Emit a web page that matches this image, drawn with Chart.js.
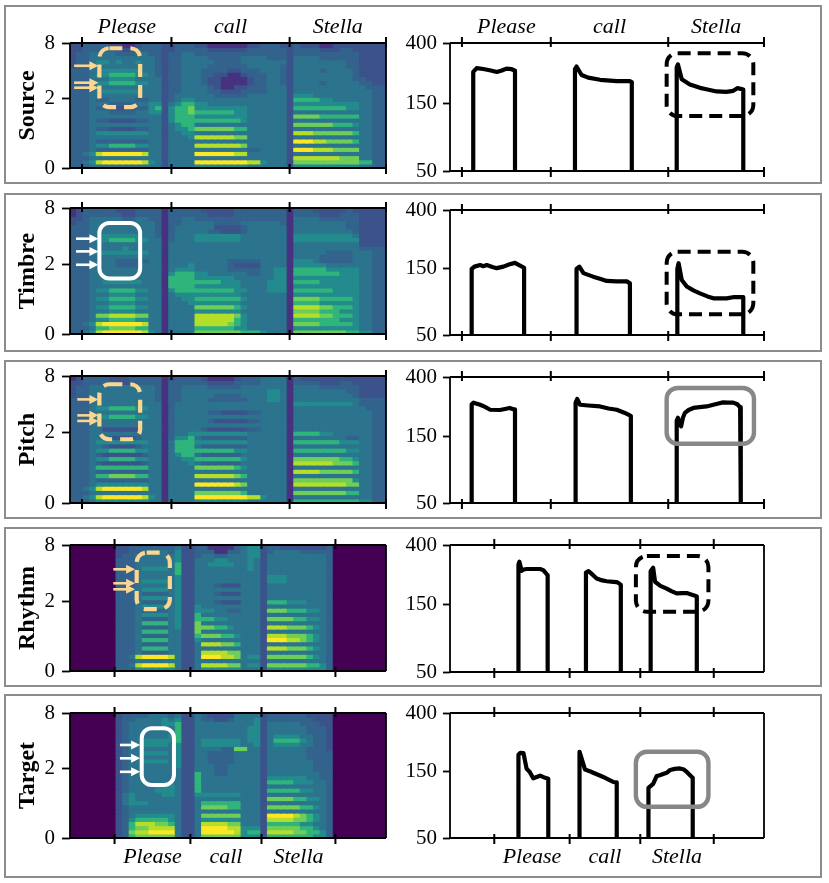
<!DOCTYPE html>
<html>
<head>
<meta charset="utf-8">
<title>Source / Timbre / Pitch / Rhythm / Target</title>
<script src="https://cdn.jsdelivr.net/npm/chart.js@4.4.1/dist/chart.umd.min.js"></script>
<style>
  html, body { margin:0; padding:0; background:#ffffff; }
  body { position:relative; width:829px; height:883px; overflow:hidden; }
  .panel { position:absolute; left:4px; width:818px; border:2px solid #8c8c8c; box-sizing:border-box; }
  canvas { position:absolute; }
</style>
</head>
<body>
<script>
// ------------------------------------------------------------------ data
const words = ['Please', 'call', 'Stella'];
const rowNames = ['Source', 'Timbre', 'Pitch', 'Rhythm', 'Target'];
const specTicksKHz = [0, 2, 8];
const pitchTicksHz = [50, 150, 400];
// word boundaries on the time axis (0-100 = full panel width)
const boundsOriginal = [3.8, 32.1, 69.5, 100];
const boundsAligned = [14.1, 38.1, 60.6, 84.0];

// spectrogram intensity grids (rows: 8 kHz at top -> 0 Hz at bottom, mel-spaced; 48 time columns; 0-9 = viridis level)
const specSource = [
"22|33|33221123|33|2|2333|2211111122|3332|2|322211222222|22",
"22|33|33332233|33|2|2333|3322222233|3333|2|333322233222|22",
"23|34|44433344|33|2|3344|3333333333|3333|2|333333333322|22",
"23|34|44444444|43|2|3344|4433333444|4333|2|444433333322|22",
"23|34|55454454|43|2|3344|4443333444|4444|2|444444443322|22",
"23|34|44444444|43|2|3344|4433333344|4443|2|444444443322|22",
"33|34|45555554|43|2|3344|4333322333|4443|2|444434444322|22",
"33|34|55666655|43|2|3344|4332211233|3443|2|444444444322|22",
"33|34|44555544|44|2|3344|4322111123|3443|2|444444444332|22",
"33|34|55666655|44|2|3344|4322111123|3443|2|444434444433|22",
"33|34|44444444|44|2|3344|4432112233|3444|2|444444444443|33",
"33|34|45555554|44|2|3344|4433222333|3444|2|444444444444|33",
"33|34|44444444|44|2|3444|4443333344|4444|2|555444444444|33",
"33|34|33444433|44|2|3455|4444444444|4444|2|666655444444|33",
"33|34|44333344|55|2|4566|5544444444|4444|2|555555555544|33",
"33|34|33222233|56|2|5667|5555555544|4444|2|666666665544|33",
"33|34|44333344|55|2|5667|6666665544|4444|2|444444444444|33",
"33|34|44444444|44|2|5666|5555555544|4444|2|777766666644|33",
"33|34|33222233|44|2|5666|6666666544|4444|2|444444444444|33",
"33|34|44444444|44|2|4566|4444444444|4444|2|777777666544|33",
"33|34|33222233|44|2|4556|7777776644|4444|2|444444444444|33",
"33|34|55555555|44|2|4455|4444444444|4444|2|888777777644|33",
"33|34|44444444|44|2|4445|8888887744|4444|2|444444444444|33",
"33|34|33333333|44|2|4444|4444444444|4444|2|999887777644|33",
"33|34|55666655|44|2|4444|8888888744|4444|2|444444444444|33",
"33|34|33333333|44|2|4444|4444444433|4444|2|999888777744|33",
"33|45|89999998|44|2|4444|9999998844|4444|2|444444444444|33",
"33|34|44444444|44|2|4444|4444444444|4444|2|888888877744|33",
"33|45|89999998|54|2|4444|9999999988|5444|2|777777777766|33",
"33|34|44444444|44|2|4444|5555555544|4444|2|555555555544|33"
];
const specTimbre = [
"12|33|33322233|33|1|3333|3222223333|3333|1|333222223222|22",
"12|33|33332233|33|1|3333|3322223333|3333|1|333322233322|22",
"22|34|44443344|33|1|3344|3333333333|3333|1|444433333322|22",
"23|34|44444444|43|1|3344|4443333444|4443|1|444444443322|22",
"33|34|44444444|43|1|3444|4442222344|4444|1|444444443322|22",
"33|34|44444444|43|1|3444|4433222344|4444|1|444444444322|22",
"33|34|45555554|43|1|3444|5555555444|4444|1|555555555422|22",
"33|34|55666655|44|1|3444|5555555444|4444|1|555555555522|22",
"33|34|44444444|44|1|4444|4444444444|4444|1|444444444422|22",
"33|34|44445444|44|1|4444|4444444444|4444|1|444444444433|33",
"33|34|55555555|44|1|4444|4444444444|4444|1|444443333444|33",
"33|34|44444444|44|1|4444|4444444444|4444|1|444433333444|33",
"33|34|44433333|44|1|4444|4444433333|4444|1|555433333444|33",
"33|34|44433334|44|1|4445|4444432222|4444|1|555554444444|33",
"33|34|44444444|44|1|4555|4444433333|4455|1|666665555544|33",
"33|34|44444444|44|1|5666|5544444433|4455|1|666666655544|33",
"33|34|44444444|44|1|6666|5555554444|4455|1|555555555544|33",
"33|34|45555554|44|1|6666|6666555444|4555|1|666655555544|33",
"33|34|44444444|44|1|6666|5555555444|4555|1|555555555544|33",
"33|34|55666655|44|1|5666|6666665544|4555|1|666666555544|33",
"33|34|44555544|44|1|4555|5555555444|4444|1|555555555544|33",
"33|34|55666655|44|1|4455|6666666544|4444|1|777766666544|33",
"33|34|44555544|44|1|4445|5555555444|4444|1|666655555544|33",
"33|34|55666655|44|1|4444|7777776544|4444|1|888877666544|33",
"33|34|44555544|44|1|4444|5555555444|4444|1|777766655544|33",
"33|34|77888877|44|1|4444|8888887544|4444|1|888877666544|33",
"33|34|55666655|44|1|4444|8888886544|4444|1|666666655544|33",
"33|45|89999998|44|1|4444|8888876544|4444|1|777766666544|33",
"33|34|66777766|44|1|4444|6666665544|4444|1|555555555544|33",
"33|45|89999998|54|1|4444|7777777666|5444|1|777777776655|33"
];
const specPitch = [
"12|33|33222333|33|1|2333|3211112333|4444|1|322222222222|22",
"22|33|33322333|33|1|3333|3322223333|4444|1|333322233222|22",
"23|34|44444444|43|1|3344|4433333444|4444|1|444433333322|22",
"23|34|44444444|43|1|3344|4444444444|4554|1|444444443322|22",
"23|34|44444444|43|1|3344|4443333444|4554|1|444444444322|22",
"33|34|44444444|43|1|3344|4433333344|4554|1|444444444433|33",
"33|34|44444444|44|1|3444|4444444444|4444|1|555555555433|33",
"33|34|55666655|44|1|3444|4444444444|4444|1|444444444443|33",
"33|34|44444444|44|1|3444|4433222233|4444|1|444444444444|33",
"33|34|55666655|44|1|3444|4444444444|4444|1|444444444444|33",
"33|34|44444444|44|1|3444|4432222233|4444|1|444444444444|33",
"33|34|44444444|44|1|3444|4444444444|4444|1|444444444444|33",
"33|34|42222224|44|1|3444|4322222233|4444|1|444444444444|33",
"33|34|44444444|44|1|3445|5555555544|4444|1|666655444444|33",
"33|34|43222234|44|1|3556|4333333344|4444|1|444444443344|33",
"33|34|55555555|44|1|4666|5555555544|4444|1|666666655544|33",
"33|34|43222234|44|1|4666|4333333344|4444|1|444444444444|33",
"33|34|55666655|44|1|4666|6666665544|4444|1|666666665544|33",
"33|34|32222223|44|1|4566|4333333444|4444|1|444444444444|33",
"33|34|55666655|44|1|4455|6666666544|4444|1|777777766544|33",
"33|34|32222223|44|1|4445|4333333444|4444|1|888888777644|33",
"33|34|66666666|44|1|4444|7777776544|4444|1|444444444444|33",
"33|34|33333333|44|1|4444|4444444444|4444|1|888877777644|33",
"33|34|66777766|44|1|4444|8888887644|4444|1|444444444444|33",
"33|34|33333333|44|1|4444|4444444444|4444|1|777777777544|33",
"33|34|55555555|44|1|4444|9999998744|4444|1|888888887744|33",
"33|45|89999998|44|1|4444|4444444444|4444|1|444444444444|33",
"33|34|44444444|44|1|4444|7777777644|4444|1|777777776644|33",
"33|45|89999998|54|1|4444|9999999988|5444|1|444444444444|33",
"33|34|55555555|44|1|4444|5555555544|4444|1|666666666655|33"
];
const specRhythm = [
"0000000|223|333333|4|22|3|311113|455|2|332222222|3|00000000",
"0000000|223|344443|5|22|3|331133|455|2|344443333|3|00000000",
"0000000|233|444444|5|22|3|443344|455|2|444444444|3|00000000",
"0000000|333|444444|5|22|4|445544|454|2|444444444|3|00000000",
"0000000|333|444444|6|22|4|455554|454|2|444444444|3|00000000",
"0000000|333|455554|6|22|4|444444|454|2|444444444|3|00000000",
"0000000|333|444444|6|22|4|444444|444|2|444444444|3|00000000",
"0000000|333|444444|5|22|4|444444|444|2|555444444|3|00000000",
"0000000|333|455554|5|22|4|444444|444|2|555444444|3|00000000",
"0000000|333|444444|5|22|4|443222|444|2|444444444|3|00000000",
"0000000|333|455554|5|22|4|444444|444|2|444444444|3|00000000",
"0000000|333|433334|5|22|4|443222|444|2|444444444|3|00000000",
"0000000|333|455554|5|22|4|444444|444|2|444444444|3|00000000",
"0000000|333|433334|5|22|4|443222|444|2|666555444|3|00000000",
"0000000|333|455554|5|22|5|444444|444|2|444444444|3|00000000",
"0000000|333|433334|5|22|5|554433|444|2|777666554|3|00000000",
"0000000|333|455554|5|22|6|444444|444|2|444444444|3|00000000",
"0000000|333|433334|5|22|6|665544|444|2|777766554|3|00000000",
"0000000|333|466664|5|22|7|444444|444|2|444444444|3|00000000",
"0000000|333|433334|5|22|7|776654|444|2|888777654|3|00000000",
"0000000|333|466664|4|22|7|444444|444|2|444444444|3|00000000",
"0000000|333|433334|4|22|6|777665|444|2|888777654|3|00000000",
"0000000|333|466664|4|22|5|444444|444|2|999887654|3|00000000",
"0000000|333|433334|4|22|4|888776|444|2|444444444|3|00000000",
"0000000|333|466664|4|22|4|444444|444|2|888777654|3|00000000",
"0000000|333|433334|4|22|4|888877|444|2|444444444|3|00000000",
"0000000|334|899998|4|22|4|999887|455|2|777777654|3|00000000",
"0000000|333|444444|4|22|4|444444|444|2|444444444|3|00000000",
"0000000|334|899998|4|22|4|888877|455|2|777777665|3|00000000",
"0000000|333|555555|4|22|4|555555|444|2|555555555|3|00000000"
];
const specTarget = [
"0000000|233|334443|4|22|4|322224|444|2|333333222|2|00000000",
"0000000|233|444454|5|22|4|332234|445|2|333333322|2|00000000",
"0000000|234|444455|6|22|4|444444|445|2|444443332|2|00000000",
"0000000|234|444444|6|22|4|444444|455|2|444444333|2|00000000",
"0000000|234|444444|6|22|4|444444|455|2|444444333|2|00000000",
"0000000|234|444445|6|22|4|444444|455|2|455554433|2|00000000",
"0000000|234|455555|6|22|4|555555|455|2|466665433|2|00000000",
"0000000|234|455554|5|22|4|555555|445|2|455554433|2|00000000",
"0000000|234|444444|5|22|4|444337|744|2|444444333|2|00000000",
"0000000|234|455554|5|22|4|433334|444|2|444444333|3|00000000",
"0000000|234|444444|5|22|4|433334|444|2|444444333|3|00000000",
"0000000|234|455554|5|22|4|433334|444|2|444444433|3|00000000",
"0000000|234|444444|5|22|4|443344|444|2|444444433|3|00000000",
"0000000|234|444444|4|22|4|443344|444|2|444444433|3|00000000",
"0000000|234|444444|4|22|6|443344|444|2|444444443|3|00000000",
"0000000|234|444444|4|22|6|444444|444|2|555555443|3|00000000",
"0000000|234|444444|4|22|6|444444|444|2|666655544|3|00000000",
"0000000|234|444555|4|22|6|444444|444|2|444444444|3|00000000",
"0000000|234|444555|4|22|6|444444|444|2|666665544|3|00000000",
"0000000|245|444455|4|22|5|555555|444|2|444444444|3|00000000",
"0000000|245|444444|4|22|4|444444|444|2|777766554|3|00000000",
"0000000|245|554444|4|22|4|666666|444|2|444444444|3|00000000",
"0000000|234|444444|4|22|4|777766|444|2|777776654|3|00000000",
"0000000|234|444444|4|22|4|444444|444|2|444444444|3|00000000",
"0000000|234|555555|4|22|4|777777|444|2|999987654|3|00000000",
"0000000|235|666665|4|22|4|555555|444|2|888877654|3|00000000",
"0000000|236|888776|4|22|4|888877|444|2|666665544|3|00000000",
"0000000|236|778888|4|22|4|999988|555|2|777776654|3|00000000",
"0000000|237|889999|4|22|4|999998|566|2|888877665|3|00000000",
"0000000|236|777777|4|22|4|777777|555|2|666666655|3|00000000"
];

// F0 contours: [time, Hz]; each word drops back to the 50 Hz floor
const pitchSource = [
  [[7.4,50],[7.4,250],[8.5,266],[10.6,262],[13,256],[14.9,250],[16.5,256],[18,264],[19.5,262],[20.7,255],[20.7,50]],
  [[39.8,50],[39.8,262],[40.3,273],[41.9,238],[44,228],[47.8,220],[53.1,215],[57.3,215],[57.9,212],[57.9,50]],
  [[72.2,50],[72.2,270],[72.6,282],[73.8,222],[76.4,204],[79.6,193],[82,188],[84.9,182],[88,181],[90.2,184],[91.5,192],[92.6,190],[93.4,188],[93.4,50]]
];
const pitchTimbre = [
  [[6.9,50],[6.9,150],[7.8,156],[9.6,160],[10.6,157],[11.7,160],[13.5,155],[14.9,152],[17,156],[19,162],[20.7,166],[22,160],[23.6,153],[23.6,50]],
  [[40.3,50],[40.3,150],[41.2,156],[42.5,140],[44,136],[45.6,132],[48,127],[49.9,123],[53,122],[56.3,122],[57.3,118],[57.3,50]],
  [[72.4,50],[72.4,150],[72.8,165],[73.8,125],[75.4,112],[77.5,105],[79.6,100],[82,95],[83.9,92],[88.1,92],[90.5,94],[92.4,94],[93.4,94],[93.4,50]]
];
const pitchPitch = [
  [[6.9,50],[6.9,255],[7.5,262],[9.6,253],[11,245],[12.8,233],[15.9,232],[17.5,236],[19,240],[20.2,235],[20.7,235],[20.7,50]],
  [[40,50],[40,262],[40.5,278],[41.4,253],[44,250],[47.8,246],[50.5,238],[53.1,233],[55.5,222],[57.3,212],[57.6,210],[57.6,50]],
  [[72.2,50],[72.2,195],[72.6,204],[73.2,185],[73.6,177],[74.2,205],[74.8,221],[76,232],[77.5,240],[79.5,243],[81.7,246],[83.9,253],[85.5,258],[87,263],[88.5,262],[90.2,262],[91.5,255],[92.4,243],[92.6,240],[92.6,50]]
];
const pitchRhythm = [
  [[21.8,50],[21.8,290],[22.1,304],[22.8,262],[23.5,268],[24.4,270],[26.5,270],[28.7,270],[29.7,265],[30.8,248],[31.1,244],[31.1,50]],
  [[43.3,50],[43.3,255],[44.1,261],[45.5,245],[46.7,231],[48.5,224],[49.9,221],[52,219],[53.1,218],[54,212],[54.4,208],[54.4,50]],
  [[63.9,50],[63.9,260],[64.7,276],[65.3,219],[67,205],[69,196],[70.5,188],[72.2,181],[74,182],[75.4,182],[77.5,176],[78.6,172],[78.6,50]]
];
const pitchTarget = [
  [[21.8,50],[21.8,200],[22.4,206],[23.4,205],[24.4,158],[25.4,150],[26.5,135],[27.6,138],[28.7,141],[30.3,136],[31.3,134],[31.3,50]],
  [[41.1,50],[41.1,200],[41.4,210],[43,156],[44.5,152],[45.6,148],[47.5,142],[48.8,138],[50.5,132],[52,127],[53.1,126],[53.1,50]],
  [[63.2,50],[63.2,115],[64.7,123],[65.8,140],[66.8,142],[67.9,145],[69,148],[70.1,155],[71.6,158],[73.2,159],[74.5,156],[75.4,150],[77,138],[77.3,136],[77.3,50]]
];

// highlighted regions (data units: time, kHz / Hz)
const specBoxTime = [[9.3,22.2],[9.3,22.2],[9.3,22.2],[21.1,31.6],[22.7,32.9]];
const specBoxKHz  = [[1.62,7.02],[1.40,5.53],[1.70,6.54],[1.64,6.62],[1.33,5.48]];
const arrowTime   = [[1.3,9.0],[1.9,9.0],[2.3,9.0],[13.7,20.6],[15.8,22.2]];
const arrowKHz    = [[4.54,2.98,2.63],[3.75,2.74,1.97],[4.51,3.05,2.66],[4.39,3.11,2.68],[3.61,2.59,1.85]];
const pitchBoxTime = [[69.0,96.6],[69.0,96.6],[69.0,96.8],[59.2,82.3],[59.2,82.3]];
const pitchBoxHz   = [[122,339],[70.5,200],[133,334],[134,334],[84,210]];

// ------------------------------------------------------------------ styles / layout
const FONT = "'Liberation Serif','Times New Roman',Times,serif";
const VIRIDIS = ['#440154','#46327e','#3b528b','#33638d','#2c738e','#238a8d','#2fb47c','#6ece58','#b5de2b','#fde725'];
const ORANGE = '#fcd590';
const specMarkStyle  = ['orange', 'white', 'orange', 'orange', 'white'];
const pitchMarkStyle = ['dash', 'dash', 'gray', 'dash', 'gray'];
const wordPlace = ['top', null, null, null, 'bottom'];
const rightSpine = [false, false, false, true, true];
const GEO = {
  panelY: [[5,184],[193,352],[360,519],[527,687],[694,878]],
  specTop: [43,208,376,545,713], specBot: [168,334,503,671,838],
  pitchTop: [43,210,377,545,713], pitchBot: [171,335,503,672,838],
  specLeft: 70, specRight: 386, specW: 400,
  pitchX: 400, pitchLeft: 450, pitchRight: 764, pitchW: 429,
  pad: 40
};
const R = 30, C = 48;
function melSlaney(hz) { return hz < 1000 ? hz * 3 / 200 : 15 + Math.log(hz / 1000) / (Math.log(6.4) / 27); }
const MEL_MAX = melSlaney(8000);
const specGrids = [specSource, specTimbre, specPitch, specRhythm, specTarget];
const pitchData = [pitchSource, pitchTimbre, pitchPitch, pitchRhythm, pitchTarget];
const norm = s => { let t = s.replace(/\|/g, ''); if (t.length < C) t = t.padEnd(C, t[t.length - 1]); return t.slice(0, C); };

function makeCanvas(x, y, w, h) {
  const cv = document.createElement('canvas');
  cv.width = w; cv.height = h;
  cv.style.left = x + 'px'; cv.style.top = y + 'px';
  cv.style.width = w + 'px'; cv.style.height = h + 'px';
  document.body.appendChild(cv);
  return cv;
}
function rrPath(ctx, x, y, w, h, r) {
  ctx.beginPath();
  ctx.moveTo(x + r, y); ctx.lineTo(x + w - r, y); ctx.arcTo(x + w, y, x + w, y + r, r);
  ctx.lineTo(x + w, y + h - r); ctx.arcTo(x + w, y + h, x + w - r, y + h, r);
  ctx.lineTo(x + r, y + h); ctx.arcTo(x, y + h, x, y + h - r, r);
  ctx.lineTo(x, y + r); ctx.arcTo(x, y, x + r, y, r); ctx.closePath();
}
function drawFrame(chart, bounds, place, right) {
  const ctx = chart.ctx, a = chart.chartArea, xs = chart.scales.xt || chart.scales.x;
  ctx.save();
  ctx.strokeStyle = '#000'; ctx.lineWidth = 1.8;
  ctx.beginPath();
  ctx.moveTo(a.left, a.top); ctx.lineTo(a.right, a.top);
  ctx.moveTo(a.left, a.bottom); ctx.lineTo(a.right, a.bottom);
  ctx.moveTo(a.left, a.top); ctx.lineTo(a.left, a.bottom);
  if (right) { ctx.moveTo(a.right, a.top); ctx.lineTo(a.right, a.bottom); }
  ctx.stroke();
  ctx.lineWidth = 2;
  ctx.beginPath();
  bounds.forEach(b => {
    const x = xs.getPixelForValue(b);
    ctx.moveTo(x, a.top - 6); ctx.lineTo(x, a.top + 4);
    ctx.moveTo(x, a.bottom - 4); ctx.lineTo(x, a.bottom + 6);
  });
  ctx.stroke();
  if (place) {
    ctx.font = 'italic 22px ' + FONT; ctx.fillStyle = '#000';
    ctx.textAlign = 'center'; ctx.textBaseline = 'alphabetic';
    words.forEach((w, k) => {
      const x = (xs.getPixelForValue(bounds[k]) + xs.getPixelForValue(bounds[k + 1])) / 2;
      ctx.fillText(w, x, place === 'top' ? a.top - 10 : a.bottom + 25);
    });
  }
  ctx.restore();
}

// panels
GEO.panelY.forEach(([y0, y1]) => {
  const d = document.createElement('div'); d.className = 'panel';
  d.style.top = y0 + 'px'; d.style.height = (y1 - y0) + 'px';
  document.body.appendChild(d);
});

// ------------------------------------------------------------------ spectrogram charts
function specChart(i) {
  const top = GEO.specTop[i] - GEO.pad;
  const h = GEO.specBot[i] - GEO.specTop[i] + 2 * GEO.pad;
  const cv = makeCanvas(0, top, GEO.specW, h);
  const grid = specGrids[i].map(norm);
  const rowH = MEL_MAX / R;
  const bounds = i < 3 ? boundsOriginal : boundsAligned;
  const datasets = grid.map((s, r) => ({
    xAxisID: 'x', yAxisID: 'y',
    data: Array.from(s, () => [Math.max(0, MEL_MAX - (r + 1) * rowH), MEL_MAX - r * rowH]),
    backgroundColor: Array.from(s, d => VIRIDIS[+d]),
    borderWidth: 0, inflateAmount: 0.6, grouped: false,
    categoryPercentage: 1, barPercentage: 1
  }));
  const overlay = {
    id: 'specOverlay',
    afterDatasetsDraw(chart) {
      const ctx = chart.ctx, xs = chart.scales.xt, ys = chart.scales.y;
      const white = specMarkStyle[i] === 'white';
      const col = white ? '#ffffff' : ORANGE;
      const kp = k => ys.getPixelForValue(melSlaney(k * 1000));
      ctx.save();
      const x0 = xs.getPixelForValue(specBoxTime[i][0]), x1 = xs.getPixelForValue(specBoxTime[i][1]);
      const y0 = kp(specBoxKHz[i][1]), y1 = kp(specBoxKHz[i][0]);
      ctx.strokeStyle = col; ctx.lineWidth = white ? 4 : 4.2;
      ctx.setLineDash(white ? [] : [13, 8]);
      rrPath(ctx, x0, y0, x1 - x0, y1 - y0, 10); ctx.stroke();
      ctx.setLineDash([]);
      const ax0 = xs.getPixelForValue(arrowTime[i][0]), ax1 = xs.getPixelForValue(arrowTime[i][1]);
      ctx.fillStyle = col; ctx.lineWidth = 2.6;
      arrowKHz[i].forEach(k => {
        const y = kp(k);
        ctx.beginPath(); ctx.moveTo(ax0, y); ctx.lineTo(ax1 - 7, y); ctx.stroke();
        ctx.beginPath(); ctx.moveTo(ax1, y); ctx.lineTo(ax1 - 9, y - 4.5); ctx.lineTo(ax1 - 9, y + 4.5); ctx.closePath(); ctx.fill();
      });
      ctx.restore();
    },
    afterDraw(chart) { drawFrame(chart, bounds, wordPlace[i], true); }
  };
  new Chart(cv, {
    type: 'bar',
    data: { labels: Array.from({ length: C }, (_, c) => c), datasets },
    options: {
      responsive: false, animation: false, events: [],
      layout: { padding: { left: 0, right: GEO.specW - GEO.specRight, top: GEO.pad, bottom: GEO.pad } },
      plugins: { legend: { display: false }, tooltip: { enabled: false } },
      scales: {
        x: { type: 'category', display: false, offset: true },
        xt: { type: 'linear', axis: 'x', position: 'bottom', min: 0, max: 100, display: false,
              offset: false, grid: { offset: false } },
        y: {
          type: 'linear', position: 'left', min: 0, max: MEL_MAX,
          afterBuildTicks: ax => { ax.ticks = specTicksKHz.map(k => ({ value: melSlaney(k * 1000) })); },
          afterFit: ax => { ax.width = GEO.specLeft; },
          ticks: { autoSkip: false, padding: 7, color: '#000', font: { family: FONT, size: 21 },
                   callback: (v, idx) => String(specTicksKHz[idx]) },
          grid: { display: true, drawOnChartArea: false, drawTicks: true, tickLength: 8, tickWidth: 1.8, tickColor: '#000' },
          border: { display: false },
          title: { display: true, text: rowNames[i], color: '#000',
                   font: { family: FONT, size: 24, weight: 'bold' }, padding: { top: 13, bottom: 0 } }
        }
      }
    },
    plugins: [overlay]
  });
}

// ------------------------------------------------------------------ pitch charts
function pitchChart(i) {
  const top = GEO.pitchTop[i] - GEO.pad;
  const h = GEO.pitchBot[i] - GEO.pitchTop[i] + 2 * GEO.pad;
  const cv = makeCanvas(GEO.pitchX, top, GEO.pitchW, h);
  const bounds = i < 3 ? boundsOriginal : boundsAligned;
  const datasets = pitchData[i].map(seg => ({
    data: seg.map(([t, f]) => ({ x: t, y: f })),
    showLine: true, borderColor: '#000', borderWidth: 4.2, pointRadius: 0,
    borderJoinStyle: 'round', borderCapStyle: 'butt', tension: 0, fill: false
  }));
  const overlay = {
    id: 'pitchOverlay',
    afterDatasetsDraw(chart) {
      const ctx = chart.ctx, xs = chart.scales.x, ys = chart.scales.y;
      const x0 = xs.getPixelForValue(pitchBoxTime[i][0]), x1 = xs.getPixelForValue(pitchBoxTime[i][1]);
      const y0 = ys.getPixelForValue(pitchBoxHz[i][1]), y1 = ys.getPixelForValue(pitchBoxHz[i][0]);
      ctx.save();
      if (pitchMarkStyle[i] === 'gray') { ctx.strokeStyle = '#878787'; ctx.lineWidth = 4.4; ctx.setLineDash([]); }
      else { ctx.strokeStyle = '#000'; ctx.lineWidth = 4; ctx.setLineDash([13, 7]); }
      rrPath(ctx, x0, y0, x1 - x0, y1 - y0, 11); ctx.stroke();
      ctx.restore();
    },
    afterDraw(chart) { drawFrame(chart, bounds, wordPlace[i], rightSpine[i]); }
  };
  new Chart(cv, {
    type: 'scatter',
    data: { datasets },
    options: {
      responsive: false, animation: false, events: [],
      layout: { padding: { left: 0, right: GEO.pitchW - (GEO.pitchRight - GEO.pitchX), top: GEO.pad, bottom: GEO.pad } },
      plugins: { legend: { display: false }, tooltip: { enabled: false } },
      scales: {
        x: { type: 'linear', min: 0, max: 100, display: false, offset: false },
        y: {
          type: 'logarithmic', position: 'left', min: 50, max: 400,
          afterBuildTicks: ax => { ax.ticks = pitchTicksHz.map(v => ({ value: v })); },
          afterFit: ax => { ax.width = GEO.pitchLeft - GEO.pitchX; },
          ticks: { autoSkip: false, padding: 6, color: '#000', font: { family: FONT, size: 21 },
                   callback: (v, idx) => String(pitchTicksHz[idx]) },
          grid: { display: true, drawOnChartArea: false, drawTicks: true, tickLength: 7, tickWidth: 1.8, tickColor: '#000' },
          border: { display: false }
        }
      }
    },
    plugins: [overlay]
  });
}

for (let i = 0; i < 5; i++) { specChart(i); pitchChart(i); }
</script>
</body>
</html>
